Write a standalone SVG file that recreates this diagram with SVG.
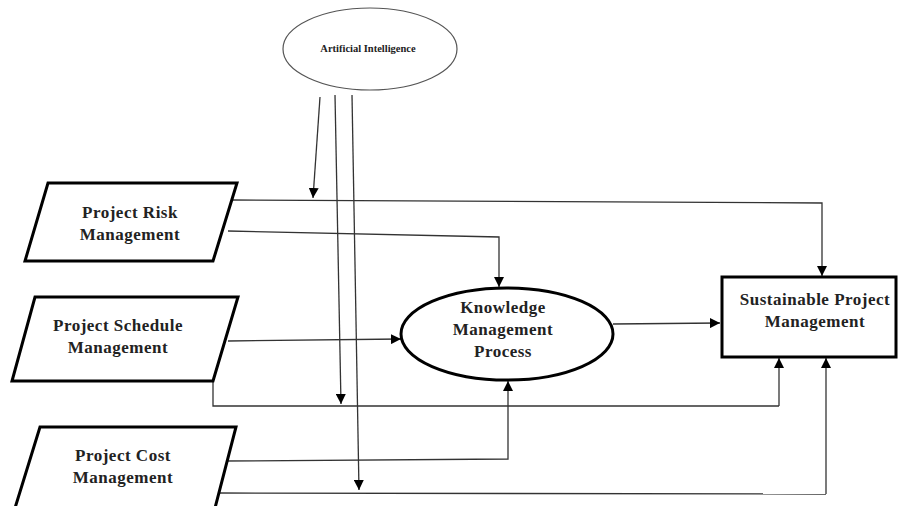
<svg xmlns="http://www.w3.org/2000/svg" width="898" height="506" viewBox="0 0 898 506">
<defs>
<marker id="ah" markerUnits="userSpaceOnUse" markerWidth="10" markerHeight="10" viewBox="0 0 10 10" refX="10" refY="5" orient="auto">
<path d="M0,0 L10,5 L0,10 z" fill="#000"/>
</marker>
<style>
.t{font-family:"Liberation Serif","Times New Roman",serif;font-weight:bold;font-size:17px;letter-spacing:0.5px;fill:#222;text-anchor:middle}
.ts{font-family:"Liberation Serif","Times New Roman",serif;font-weight:bold;font-size:10.5px;fill:#222;text-anchor:middle}
.thick{fill:#fff;stroke:#000;stroke-width:3}
.thin{fill:#fff;stroke:#555;stroke-width:1.2}
.c{fill:none;stroke:#333;stroke-width:1.3}
.ca{fill:none;stroke:#333;stroke-width:1.3;marker-end:url(#ah)}
</style>
</defs>
<rect width="898" height="506" fill="#fff"/>
<g id="connectors">
<path class="ca" d="M320,97 L313,198"/>
<path class="ca" d="M335,95 L341,404"/>
<path class="ca" d="M352,95 L359,490"/>
<path class="ca" d="M232,200 L822,203 L822,276"/>
<path class="ca" d="M228,231 L499,237 L499,287"/>
<path class="ca" d="M228,341 L401,339"/>
<path class="c" d="M213,381 L213,406 L779,406"/>
<path class="ca" d="M779,406 L779,358"/>
<path class="ca" d="M222,461 L508,459 L508,381"/>
<path class="c" d="M218,493 L826,494"/>
<path class="ca" d="M826,494 L826,358"/>
<path class="ca" d="M613,324 L720,323"/>
</g>
<g id="ai">
<ellipse class="thin" cx="370" cy="49" rx="87" ry="41"/>
<text class="ts" x="368" y="52">Artificial Intelligence</text>
</g>
<g id="risk">
<polygon class="thick" points="48,183 237,183 213,261 25,261"/>
<text class="t" x="130" y="218">Project Risk</text>
<text class="t" x="130" y="240">Management</text>
</g>
<g id="schedule">
<polygon class="thick" points="35,297 238,297 213,381 12,381"/>
<text class="t" x="118" y="331">Project Schedule</text>
<text class="t" x="118" y="353">Management</text>
</g>
<g id="cost">
<polygon class="thick" points="40,427 236,427 215,508 15,508"/>
<text class="t" x="123" y="461">Project Cost</text>
<text class="t" x="123" y="483">Management</text>
</g>
<g id="kmp">
<ellipse class="thick" cx="507" cy="334" rx="106" ry="46"/>
<text class="t" x="503" y="313">Knowledge</text>
<text class="t" x="503" y="335">Management</text>
<text class="t" x="503" y="357">Process</text>
</g>
<g id="spm">
<rect class="thick" x="722" y="277" width="174" height="80"/>
<text class="t" x="815" y="305">Sustainable Project</text>
<text class="t" x="815" y="327">Management</text>
</g>
</svg>
